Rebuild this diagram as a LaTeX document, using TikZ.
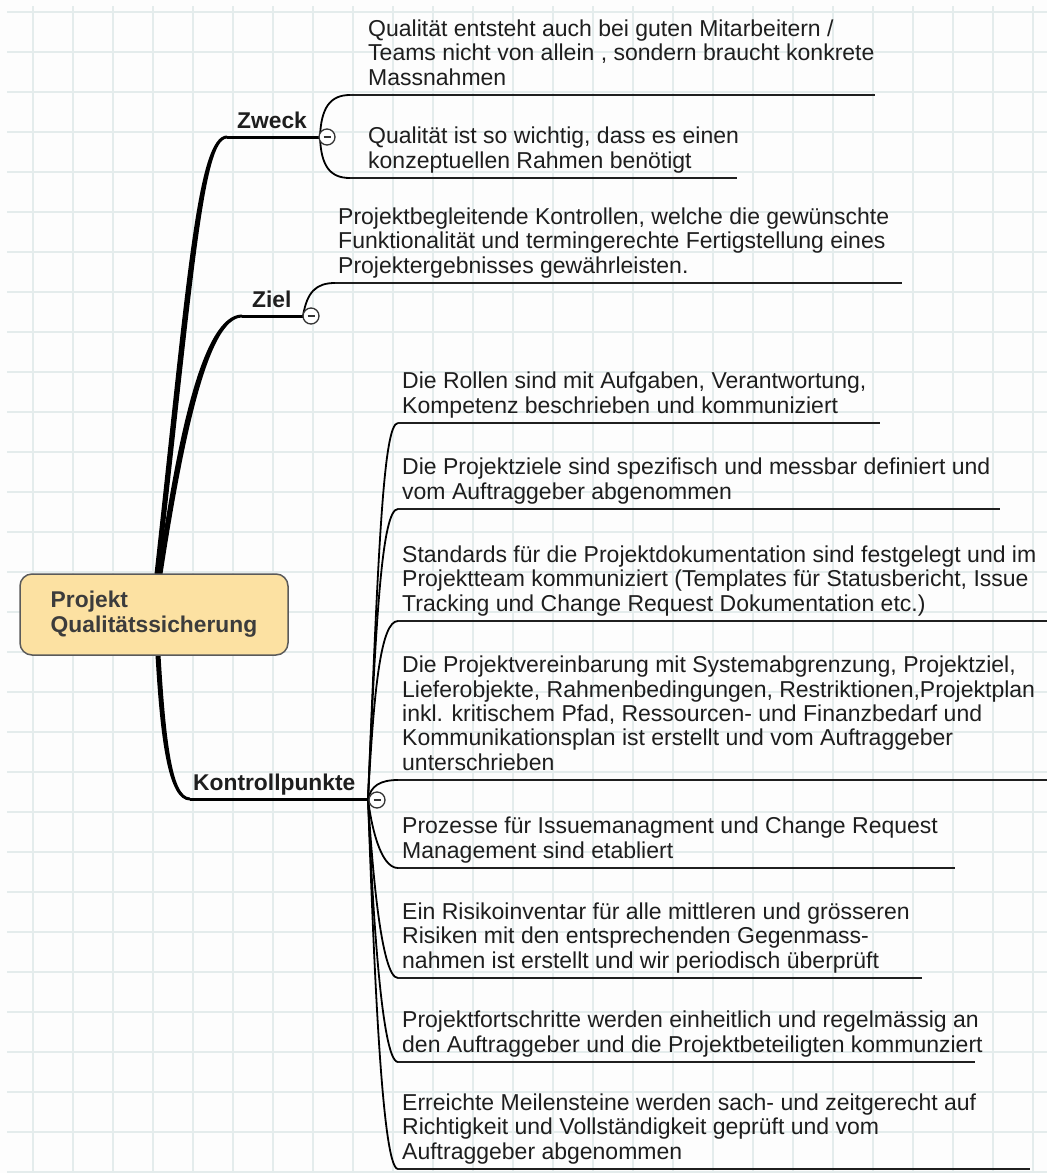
\documentclass[tikz,border=0pt]{standalone}
\usepackage{fontspec}
\setmainfont{Liberation Sans}
\usetikzlibrary{calc}
\definecolor{gridc}{HTML}{E4ECEC}
\definecolor{bgc}{HTML}{FDFDFD}
\definecolor{rootfill}{HTML}{FCE1A2}
\definecolor{rootline}{HTML}{5A5A5A}
\definecolor{rootText}{HTML}{3C3C3C}
\definecolor{txt}{HTML}{1E1E1E}
\newcommand\mmlines[1]{\begin{tabular}[b]{@{}l@{}}#1\end{tabular}}
\begin{document}
\begin{tikzpicture}[x=1pt,y=-1pt,
  item/.style={anchor=base west, inner sep=0pt, text=txt, font=\fontsize{23}{24.3}\selectfont},
  mainlbl/.style={anchor=base west, inner sep=0pt, text=txt, font=\fontsize{22.8}{24}\selectfont\bfseries},
  rootbox/.style={draw=rootline, line width=1.5pt, fill=rootfill, rounded corners=12pt,
    minimum width=268pt, minimum height=81pt, inner sep=0pt, text=rootText,
    font=\fontsize{22.8}{25}\selectfont\bfseries},
  branch/.style={fill=black},
  mainline/.style={draw=black, line width=3pt},
  sub/.style={draw=black, line width=1.8pt},
  uline/.style={draw=black!88, line width=2.6pt},
  collapse/.style={circle, draw=black!80, fill=white, line width=1.3pt, minimum size=16pt, inner sep=0pt,
    path picture={\draw[line width=1.8pt, black!80] ([xshift=-3.5pt]path picture bounding box.center) -- ([xshift=3.5pt]path picture bounding box.center);}}
]
% background and grid
\fill[bgc] (0,0) rectangle (1047,1173);
\useasboundingbox (0,0) rectangle (1047,1173);
\foreach \x in {33,73,...,1033} \draw[gridc, line width=2pt] (\x,6) -- (\x,1173);
\foreach \y in {12,52,...,1172} \draw[gridc, line width=2pt] (7,\y) -- (1047,\y);

% anchor coordinates
\coordinate (rN) at (157,574);
\coordinate (rS) at (158,655);
\coordinate (zL) at (227,137);
\coordinate (zj) at (320,137);
\coordinate (ziL) at (242,316);
\coordinate (zij) at (303,316);
\coordinate (kL) at (190,799);
\coordinate (kj) at (368,799);

% main branches (tapered)
\fill[branch] ($(rN)+(-2.5,0)$) .. controls ($(rN)+(30,-294)$) and ($(zL)+(-30,-1.5)$) .. ($(zL)+(0,-1.5)$)
  -- ($(zL)+(0,1.5)$) .. controls ($(zL)+(-24,1.5)$) and ($(rN)+(36,-294)$) .. ($(rN)+(2.5,0)$) -- cycle;
\fill[branch] ($(rN)+(0.5,0)$) .. controls ($(rN)+(20,-134)$) and ($(ziL)+(-40,-1.5)$) .. ($(ziL)+(0,-1.5)$)
  -- ($(ziL)+(0,1.5)$) .. controls ($(ziL)+(-34,1.5)$) and ($(rN)+(26,-134)$) .. ($(rN)+(5.5,0)$) -- cycle;
\fill[branch] ($(rS)+(-2.5,0)$) .. controls ($(rS)+(2.5,85)$) and ($(kL)+(-22,1.5)$) .. ($(kL)+(0,1.5)$)
  -- ($(kL)+(0,-1.5)$) .. controls ($(kL)+(-18,-1.5)$) and ($(rS)+(7.5,85)$) .. ($(rS)+(2.5,0)$) -- cycle;
\draw[mainline] (zL) -- (zj);
\draw[mainline] (ziL) -- (zij);
\draw[mainline] (kL) -- (kj);

% root
\node[rootbox] (root) at (154,614.5) {\mmlines{Projekt\\Qualitätssicherung}};

% main labels
\node[mainlbl] (zweck) at (237,128) {Zweck};
\node[mainlbl] (ziel) at (252,307) {Ziel};
\node[mainlbl] (kontroll) at (193,790) {Kontrollpunkte};

% Zweck items
\coordinate (z1s) at (350,95);  \coordinate (z1e) at (875,95);
\coordinate (z2s) at (350,178); \coordinate (z2e) at (737,178);
\draw[sub] (zj) .. controls (321,108) and (330,95) .. (z1s);
\draw[sub] (zj) .. controls (321,166) and (330,178) .. (z2s);
\draw[uline] (z1s) -- (z1e);
\draw[uline] (z2s) -- (z2e);
\node[item] (z1) at (368,85) {\mmlines{Qualität entsteht auch bei guten Mitarbeitern /\\Teams nicht von allein , sondern braucht konkrete\\Massnahmen}};
\node[item] (z2) at (368,168) {\mmlines{Qualität ist so wichtig, dass es einen\\konzeptuellen Rahmen benötigt}};

% Ziel item
\coordinate (zi1s) at (335,283); \coordinate (zi1e) at (902,283);
\draw[sub] (zij) .. controls (307,292) and (316,283) .. (zi1s);
\draw[uline] (zi1s) -- (zi1e);
\node[item] (zi1) at (338,273) {\mmlines{Projektbegleitende Kontrollen, welche die gewünschte\\Funktionalität und termingerechte Fertigstellung eines\\Projektergebnisses gewährleisten.}};

% Kontrollpunkte items
\foreach \n/\yy/\xe in {1/423/880, 2/509/1000, 3/621/1047, 5/868/955, 6/978/922, 7/1062/975, 8/1169/1030} {
  \coordinate (k\n s) at (398,\yy);
  \coordinate (k\n e) at (\xe,\yy);
}
\coordinate (k4s) at (398,780); \coordinate (k4e) at (1047,780);
\draw[sub] (kj) .. controls (378,560) and (383,423) .. (k1s);
\draw[sub] (kj) .. controls (376,616) and (382,509) .. (k2s);
\draw[sub] (kj) .. controls (374,687) and (381,621) .. (k3s);
\draw[sub] (kj) .. controls (371,786) and (380,780) .. (k4s);
\draw[sub] (kj) .. controls (371,824) and (380,868) .. (k5s);
\draw[sub] (kj) .. controls (372,865) and (381,978) .. (k6s);
\draw[sub] (kj) .. controls (372,896) and (381,1062) .. (k7s);
\draw[sub] (kj) .. controls (373,935) and (381,1169) .. (k8s);
\foreach \n in {1,...,8} \draw[uline] (k\n s) -- (k\n e);

\node[item] (k1) at (402,413) {\mmlines{Die Rollen sind mit Aufgaben, Verantwortung,\\Kompetenz beschrieben und kommuniziert}};
\node[item] (k2) at (402,499) {\mmlines{Die Projektziele sind spezifisch und messbar definiert und\\vom Auftraggeber abgenommen}};
\node[item] (k3) at (402,611) {\mmlines{Standards für die Projektdokumentation sind festgelegt und im\\Projektteam kommuniziert (Templates für Statusbericht, Issue\\Tracking und Change Request Dokumentation etc.)}};
\node[item] (k4) at (402,770) {\mmlines{Die Projektvereinbarung mit Systemabgrenzung, Projektziel,\\Lieferobjekte, Rahmenbedingungen, Restriktionen,Projektplan\\inkl. kritischem Pfad, Ressourcen- und Finanzbedarf und\\Kommunikationsplan ist erstellt und vom Auftraggeber\\unterschrieben}};
\node[item] (k5) at (402,858) {\mmlines{Prozesse für Issuemanagment  und Change Request\\Management sind etabliert}};
\node[item] (k6) at (402,968) {\mmlines{Ein Risikoinventar für alle mittleren und grösseren\\Risiken mit den entsprechenden Gegenmass-\\nahmen ist erstellt und wir periodisch überprüft}};
\node[item] (k7) at (402,1052) {\mmlines{Projektfortschritte werden einheitlich und regelmässig an\\den Auftraggeber und die Projektbeteiligten kommunziert}};
\node[item] (k8) at (402,1159) {\mmlines{Erreichte Meilensteine werden sach- und zeitgerecht auf\\Richtigkeit und Vollständigkeit geprüft und vom\\Auftraggeber abgenommen}};

% collapse markers
\node[collapse] (zc) at (327,137) {};
\node[collapse] (zic) at (311,316) {};
\node[collapse] (kc) at (377,800) {};
\end{tikzpicture}
\end{document}
